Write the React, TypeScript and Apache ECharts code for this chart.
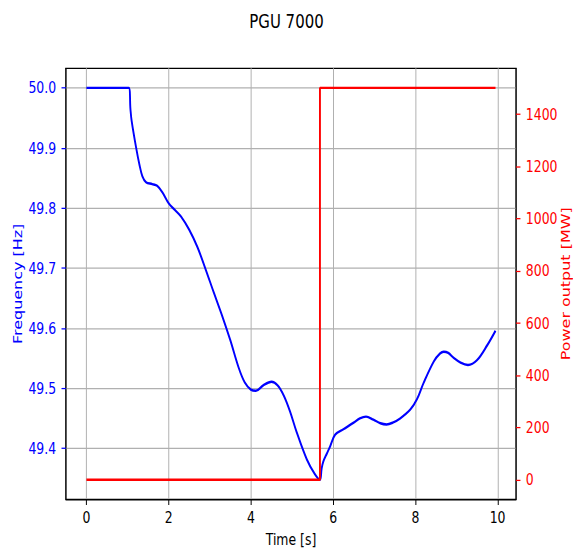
import React, { useEffect, useRef } from "react";
import * as echarts from "echarts";

// Frequency response of the system after the disturbance
const timeS: number[] = [
  0, 0.5, 0.9, 1.03, 1.07, 1.1, 1.21, 1.29, 1.36, 1.45, 1.6, 1.72, 1.85, 2.0,
  2.15, 2.3, 2.5, 2.7, 2.9, 3.1, 3.3, 3.5, 3.7, 3.85, 4.0, 4.12, 4.3, 4.5, 4.65,
  4.8, 4.95, 5.11, 5.36, 5.55, 5.68, 5.72, 5.76, 5.85, 5.93, 6.05, 6.25, 6.5,
  6.65, 6.8, 6.98, 7.15, 7.3, 7.45, 7.63, 7.88, 8.04, 8.2, 8.45, 8.6, 8.69, 8.8,
  8.93, 9.1, 9.28, 9.5, 9.75, 9.95,
];
const frequencyHz: number[] = [
  50.0, 50.0, 50.0, 50.0, 49.965, 49.945, 49.9, 49.872, 49.853, 49.843, 49.84,
  49.837, 49.826, 49.808, 49.797, 49.786, 49.764, 49.735, 49.698, 49.659,
  49.621, 49.58, 49.535, 49.51, 49.498, 49.496, 49.505, 49.511, 49.505, 49.488,
  49.462, 49.428, 49.382, 49.358, 49.348, 49.366, 49.378, 49.392, 49.404,
  49.423, 49.432, 49.443, 49.45, 49.453, 49.448, 49.442, 49.44, 49.443, 49.45,
  49.465, 49.482, 49.509, 49.545, 49.558, 49.561, 49.559, 49.551, 49.543,
  49.539, 49.547, 49.572, 49.596,
];

// PGU 7000 output: a step from 0 to 1500 MW
const powerTime: number[] = [0, 5.68, 5.68, 9.95];
const powerMW: number[] = [0, 0, 1500, 1500];

const xTicks: number[] = [0, 2, 4, 6, 8, 10];
const freqTicks: number[] = [49.4, 49.5, 49.6, 49.7, 49.8, 49.9, 50.0];
const powerTicks: number[] = [0, 200, 400, 600, 800, 1000, 1200, 1400];

// The figure is laid out on a 640x480 canvas and stretched to the page size
const BASE_W = 640;
const BASE_H = 480;
const PAGE_W = 573;
const PAGE_H = 551;

const FONT = "DejaVu Sans";
const TICK_SIZE = 13.9;
const TITLE_SIZE = 16.7;
const GRID_COLOR = "#b0b0b0";
const BLUE = "#0000ff";
const RED = "#ff0000";

export default function App() {
  const ref = useRef<HTMLDivElement>(null);

  useEffect(() => {
    if (!ref.current) return;
    const chart = echarts.init(ref.current, null, { renderer: "svg" });

    const xPad = (timeS[timeS.length - 1] - timeS[0]) * 0.05;
    const fMin = Math.min(...frequencyHz);
    const fMax = Math.max(...frequencyHz);
    const fPad = (fMax - fMin) * 0.05;
    const pMin = Math.min(...powerMW);
    const pMax = Math.max(...powerMW);
    const pPad = (pMax - pMin) * 0.05;

    chart.setOption({
      animation: false,
      backgroundColor: "#ffffff",
      textStyle: { fontFamily: FONT },
      title: {
        text: "PGU 7000",
        left: "center",
        top: 5,
        textStyle: {
          fontFamily: FONT,
          fontSize: TITLE_SIZE,
          fontWeight: "normal",
          color: "#000000",
        },
      },
      grid: {
        left: 73.7,
        right: 63.7,
        top: 59.5,
        bottom: 45,
        containLabel: false,
        outerBoundsMode: "none",
        show: true,
        borderColor: "#000000",
        borderWidth: 1.1,
        backgroundColor: "transparent",
      },
      xAxis: {
        type: "value",
        min: timeS[0] - xPad,
        max: timeS[timeS.length - 1] + xPad,
        name: "Time [s]",
        nameLocation: "middle",
        nameGap: 28,
        nameMoveOverlap: false,
        nameTextStyle: { fontFamily: FONT, fontSize: TICK_SIZE, color: "#000000" },
        axisLine: {
          show: true,
          onZero: false,
          lineStyle: { color: "#000000", width: 1.1 },
        },
        axisTick: {
          show: true,
          inside: false,
          length: 5,
          customValues: xTicks,
          lineStyle: { color: "#000000", width: 1.1 },
        },
        axisLabel: {
          customValues: xTicks,
          margin: 9,
          fontFamily: FONT,
          fontSize: TICK_SIZE,
          color: "#000000",
        },
        splitLine: {
          show: true,
          lineStyle: { color: GRID_COLOR, width: 1.1 },
        },
      },
      yAxis: [
        {
          type: "value",
          position: "left",
          min: fMin - fPad,
          max: fMax + fPad,
          name: "Frequency [Hz]",
          nameLocation: "middle",
          nameGap: 47.5,
          nameMoveOverlap: false,
          nameTextStyle: { fontFamily: FONT, fontSize: TICK_SIZE, color: BLUE },
          axisLine: {
            show: true,
            onZero: false,
            lineStyle: { color: "#000000", width: 1.1 },
          },
          axisTick: {
            show: true,
            inside: false,
            length: 5,
            customValues: freqTicks,
            lineStyle: { color: BLUE, width: 1.1 },
          },
          axisLabel: {
            customValues: freqTicks,
            margin: 11,
            fontFamily: FONT,
            fontSize: TICK_SIZE,
            color: BLUE,
            formatter: (v: number) => v.toFixed(1),
          },
          splitLine: {
            show: true,
            lineStyle: { color: GRID_COLOR, width: 1.1 },
          },
        },
        {
          type: "value",
          position: "right",
          min: pMin - pPad,
          max: pMax + pPad,
          name: "Power output [MW]",
          nameLocation: "middle",
          nameGap: 48.5,
          nameMoveOverlap: false,
          nameTextStyle: { fontFamily: FONT, fontSize: TICK_SIZE, color: RED },
          axisLine: {
            show: true,
            onZero: false,
            lineStyle: { color: "#000000", width: 1.1 },
          },
          axisTick: {
            show: true,
            inside: false,
            length: 5,
            customValues: powerTicks,
            lineStyle: { color: RED, width: 1.1 },
          },
          axisLabel: {
            customValues: powerTicks,
            margin: 11,
            fontFamily: FONT,
            fontSize: TICK_SIZE,
            color: RED,
            formatter: (v: number) => String(v),
          },
          splitLine: { show: false },
        },
      ],
      series: [
        {
          name: "Frequency",
          type: "line",
          yAxisIndex: 0,
          data: timeS.map((t, i) => [t, frequencyHz[i]]),
          showSymbol: false,
          smooth: 0.35,
          lineStyle: { color: BLUE, width: 2.1 },
          itemStyle: { color: BLUE },
          z: 3,
        },
        {
          name: "Power",
          type: "line",
          yAxisIndex: 1,
          data: powerTime.map((t, i) => [t, powerMW[i]]),
          showSymbol: false,
          lineStyle: { color: RED, width: 2.1 },
          itemStyle: { color: RED },
          z: 4,
        },
      ],
    });

    return () => chart.dispose();
  }, []);

  return (
    <div
      style={{
        position: "fixed",
        left: 0,
        top: 0,
        width: PAGE_W,
        height: PAGE_H,
        overflow: "hidden",
        background: "#ffffff",
      }}
    >
      <div
        ref={ref}
        style={{
          width: BASE_W,
          height: BASE_H,
          transform: `scale(${PAGE_W / BASE_W}, ${PAGE_H / BASE_H})`,
          transformOrigin: "0 0",
        }}
      />
    </div>
  );
}
